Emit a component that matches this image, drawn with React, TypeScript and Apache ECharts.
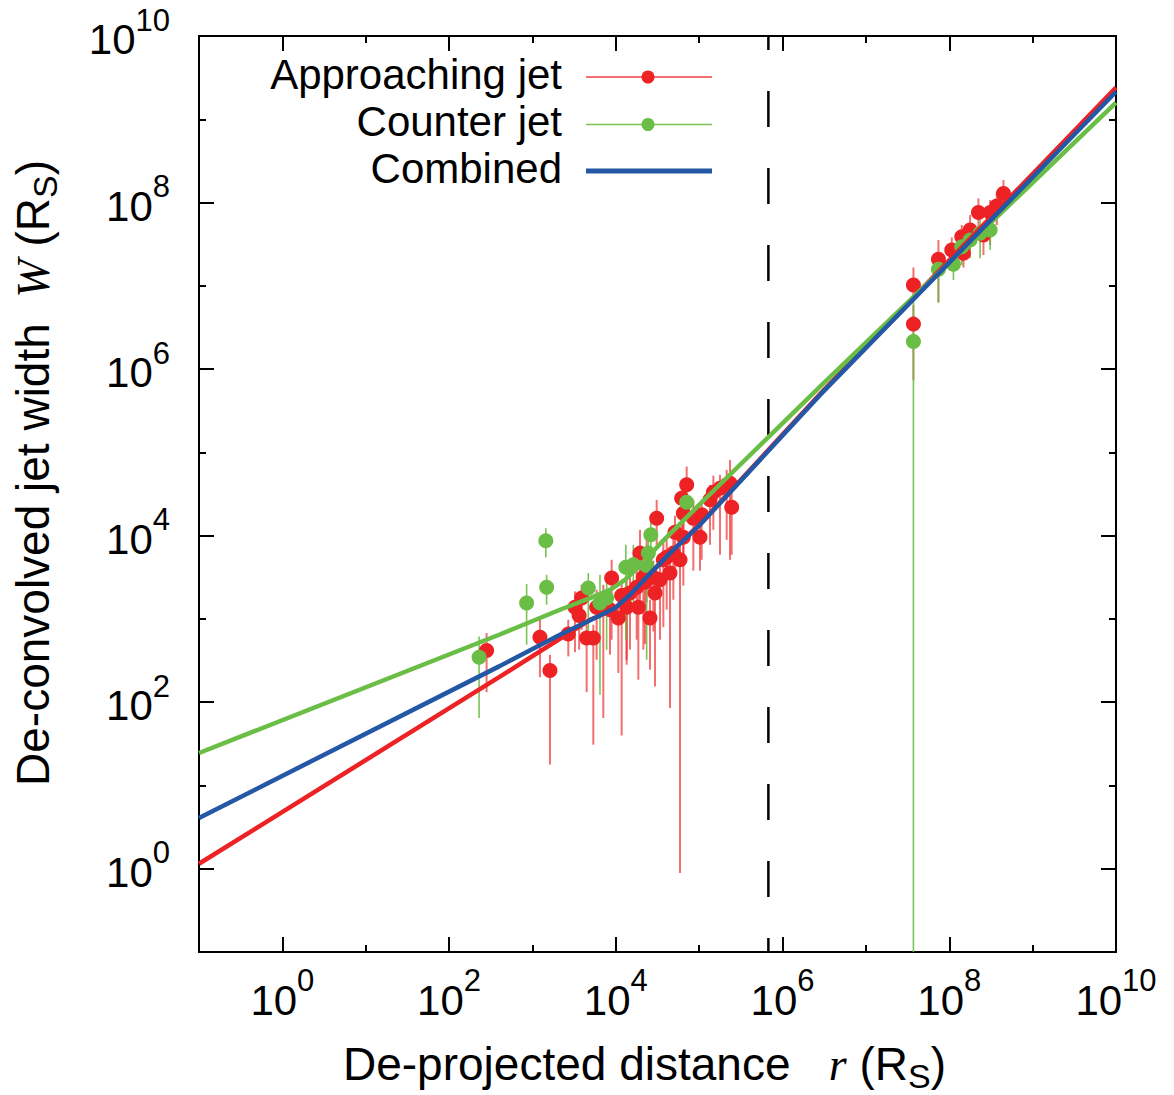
import React, { useEffect, useRef } from "react";
import * as echarts from "echarts";

// Approaching jet (red): r, W, upper and lower end of the W error bar
const approachLogR = [2.45, 3.09, 3.21, 3.43, 3.51, 3.56, 3.59, 3.65, 3.73, 3.77, 3.85, 3.93, 3.95, 4.03, 4.07, 4.13, 4.13, 4.17, 4.25, 4.27, 4.29, 4.33, 4.35, 4.37, 4.41, 4.45, 4.47, 4.49, 4.53, 4.57, 4.61, 4.65, 4.69, 4.71, 4.77, 4.79, 4.81, 4.81, 4.85, 4.93, 5.01, 5.03, 5.13, 5.17, 5.25, 5.33, 5.37, 5.39, 7.57, 7.57, 7.87, 8.03, 8.15, 8.17, 8.25, 8.35, 8.41, 8.49, 8.57, 8.65];
const approachLogW = [2.62, 2.78, 2.38, 2.82, 3.14, 3.04, 3.25, 2.77, 2.77, 3.14, 3.23, 3.11, 3.49, 3.01, 3.28, 3.14, 3.29, 3.31, 3.38, 3.14, 3.79, 3.5, 3.44, 3.77, 3.01, 3.5, 3.31, 4.21, 3.47, 3.71, 3.74, 3.55, 3.79, 4.04, 3.71, 4.45, 4.27, 3.98, 4.61, 4.21, 3.98, 4.25, 4.43, 4.52, 4.57, 4.61, 4.63, 4.34, 7.01, 6.54, 7.32, 7.43, 7.59, 7.39, 7.67, 7.88, 7.61, 7.88, 7.96, 8.11];
const approachLogWHi = [2.83, 2.99, 2.57, 2.99, 3.33, 3.23, 3.41, 2.93, 2.93, 3.35, 3.41, 3.29, 3.71, 3.17, 3.47, 3.35, 3.5, 3.53, 3.58, 3.35, 4.07, 3.71, 3.65, 3.98, 3.23, 3.7, 3.53, 4.43, 3.71, 3.92, 3.95, 3.77, 4.01, 4.24, 3.89, 4.67, 4.49, 4.19, 4.83, 4.43, 4.19, 4.43, 4.61, 4.72, 4.73, 4.79, 4.91, 4.55, 7.22, 6.77, 7.55, 7.58, 7.73, 7.55, 7.85, 8.05, 7.77, 8.03, 8.13, 8.27];
const approachLogWLo = [2.12, 2.3, 1.25, 2.55, 2.6, 2.63, 2.87, 2.12, 1.49, 2.51, 1.81, 2.57, 2.75, 2.35, 1.6, 2.51, 2.45, 2.63, 2.75, 2.27, 3.23, 2.63, 2.7, 3.2, 2.39, 2.85, 2.19, 3.89, 2.75, 2.9, 3.11, 1.93, 3.23, 3.5, -0.05, 4.07, 3.71, 3.4, 4.31, 3.58, 3.58, 3.71, 3.89, 4.07, 3.77, 3.95, 3.71, 3.77, 6.83, 5.87, 6.8, 7.29, 7.29, 7.22, 7.43, 7.69, 7.37, 7.49, 7.73, 7.91];

// Counter jet (green)
const counterLogR = [2.36, 2.93, 3.16, 3.17, 3.67, 3.81, 3.89, 4.12, 4.21, 4.37, 4.39, 4.42, 4.85, 7.57, 7.87, 8.05, 8.15, 8.25, 8.37, 8.49];
const counterLogW = [2.54, 3.19, 3.94, 3.38, 3.37, 3.19, 3.25, 3.62, 3.65, 3.64, 3.79, 4.01, 4.4, 6.33, 7.2, 7.26, 7.47, 7.55, 7.63, 7.67];
const counterLogWHi = [2.79, 3.42, 4.09, 3.53, 3.55, 3.53, 3.47, 3.89, 3.89, 3.89, 3.95, 4.19, 4.55, 6.83, 7.37, 7.43, 7.61, 7.69, 7.79, 7.82];
const counterLogWLo = [1.81, 2.69, 3.74, 3.17, 2.75, 2.09, 2.63, 2.75, 3.11, 2.51, 3.47, 3.77, 4.19, -3, 6.8, 7.07, 7.25, 7.33, 7.33, 7.43];

// Fitted broken power laws (read as vertices off the picture)
const fitApproachLogR = [-1, 2.6, 3.69, 3.81, 3.99, 4.17, 4.35, 4.65, 5.01, 6.45, 10];
const fitApproachLogW = [0.06, 2.3, 2.99, 3.04, 3.13, 3.29, 3.48, 3.79, 4.14, 5.7, 9.38];
const fitCounterLogR = [-1, 2.6, 3.33, 3.69, 3.93, 4.11, 4.29, 4.53, 5.01, 6.45, 10];
const fitCounterLogW = [1.39, 2.81, 3.11, 3.25, 3.35, 3.47, 3.64, 3.9, 4.38, 5.79, 9.2];
const fitCombinedLogR = [-1, 2.6, 3.33, 3.81, 3.99, 4.17, 4.35, 4.65, 5.01, 6.45, 10];
const fitCombinedLogW = [0.61, 2.43, 2.81, 3.04, 3.13, 3.29, 3.48, 3.79, 4.13, 5.69, 9.33];

const boundaryLogR = 5.83;
const axisMinExp = -1;
const axisMaxExp = 10;
const majorExponents = [0, 2, 4, 6, 8, 10];

const legendNames = ["Approaching jet", "Counter jet", "Combined"];

const RED = "#ED2224";
const RED_BAR = "rgba(237,34,36,0.65)";
const GREEN = "#6ABD45";
const GREEN_BAR = "rgba(106,189,69,0.9)";
const BLUE = "#2457A6";

const SANS = "'Liberation Sans', Arial, Helvetica, sans-serif";
const SERIF = "'Liberation Serif', 'Times New Roman', serif";

const pairs = (xs: number[], ys: number[]) => xs.map((x, i) => [x, ys[i]]);
const triples = (xs: number[], hi: number[], lo: number[]) => xs.map((x, i) => [x, hi[i], lo[i]]);

const tickRich = {
  b: { fontSize: 42, lineHeight: 70, fontFamily: SANS, color: "#000" },
  s: { fontSize: 31, lineHeight: 31, verticalAlign: "top", fontFamily: SANS, color: "#000" },
};
const tickFormatter = (v: number) => {
  const n = Math.round(v);
  return n % 2 === 0 ? `{b|10}{s|${n}}` : "";
};

const tickStyle = { color: "#000", width: 2 };

function makeAxes(dir: "x" | "y") {
  const base = { type: "value", min: axisMinExp, max: axisMaxExp, interval: 1, splitLine: { show: false } };
  const sides = dir === "x" ? ["bottom", "top"] : ["left", "right"];
  const axes: any[] = [];
  sides.forEach((side, si) => {
    axes.push({
      ...base,
      position: side,
      axisLine: { show: true, onZero: false, lineStyle: { color: "#000", width: 2 } },
      axisTick: { show: true, inside: true, length: 7, lineStyle: tickStyle },
      axisLabel:
        si === 0
          ? dir === "x"
            ? { show: true, formatter: tickFormatter, rich: tickRich, margin: 13 }
            : { show: true, formatter: tickFormatter, rich: tickRich, margin: 29, padding: [7, 0, 0, 0] }
          : { show: false },
    });
    axes.push({
      ...base,
      position: side,
      axisLine: { show: false, onZero: false },
      axisTick: { show: true, inside: true, length: 15, customValues: majorExponents, lineStyle: tickStyle },
      axisLabel: { show: false },
    });
  });
  return axes;
}

function errorBars(name: string, data: number[][], color: string, width: number) {
  return {
    type: "custom",
    name: name + " error",
    silent: true,
    clip: true,
    z: 1,
    encode: { x: 0, y: [1, 2] },
    data,
    renderItem: (params: any, api: any) => {
      const x = api.value(0);
      const p1 = api.coord([x, api.value(1)]);
      const p2 = api.coord([x, api.value(2)]);
      const cs = params.coordSys;
      const top = Math.max(cs.y, Math.min(p1[1], p2[1]));
      const bot = Math.min(cs.y + cs.height, Math.max(p1[1], p2[1]));
      return {
        type: "line",
        shape: { x1: p1[0], y1: top, x2: p1[0], y2: bot },
        style: { stroke: color, lineWidth: width },
      };
    },
  };
}

function titleRich() {
  return {
    n: { fontSize: 46, lineHeight: 58, fontFamily: SANS, fill: "#000", color: "#000" },
    i: { fontSize: 46, lineHeight: 58, fontFamily: SERIF, fontStyle: "italic", fill: "#000", color: "#000" },
    sub: { fontSize: 34, lineHeight: 34, verticalAlign: "bottom", fontFamily: SANS, fill: "#000", color: "#000" },
  };
}

const legendRowsY = [74, 121, 168];
const legendLineY = [77, 124.5, 171];

function buildGraphic() {
  const g: any[] = [];
  const colors = [RED, GREEN, BLUE];
  const lineColors = [RED_BAR, GREEN_BAR, BLUE];
  const lineWidths = [2, 1.5, 5];
  legendNames.forEach((name, i) => {
    g.push({
      type: "text",
      x: 562,
      y: legendRowsY[i],
      style: {
        text: name,
        font: `42px ${SANS}`,
        fill: "#000",
        align: "right",
        verticalAlign: "middle",
        textAlign: "right",
        textVerticalAlign: "middle",
      },
    });
    g.push({
      type: "line",
      shape: { x1: 586, y1: legendLineY[i], x2: 712, y2: legendLineY[i] },
      style: { stroke: lineColors[i], lineWidth: lineWidths[i] },
    });
    if (i < 2) {
      g.push({ type: "circle", shape: { cx: 648, cy: legendLineY[i], r: 6.5 }, style: { fill: colors[i] } });
    }
  });
  g.push({
    type: "text",
    x: 343,
    y: 1064,
    style: {
      text: "{n|De-projected distance}{n|   }{i|r}{n| (R}{sub|S}{n|)}",
      rich: titleRich(),
      align: "left",
      verticalAlign: "middle",
      textAlign: "left",
      textVerticalAlign: "middle",
    },
  });
  g.push({
    type: "text",
    x: 33,
    y: 473,
    rotation: Math.PI / 2,
    style: {
      text: "{n|De-convolved jet width  }{i|W}{n| (R}{sub|S}{n|)}",
      rich: titleRich(),
      align: "center",
      verticalAlign: "middle",
      textAlign: "center",
      textVerticalAlign: "middle",
    },
  });
  return g;
}

export default function App() {
  const ref = useRef<HTMLDivElement>(null);
  useEffect(() => {
    if (!ref.current) return;
    const chart = echarts.init(ref.current, null, { renderer: "svg" });
    const option: any = {
      animation: false,
      backgroundColor: "#fff",
      grid: { left: 199, top: 36, width: 917, height: 916, containLabel: false, outerBoundsMode: "none" },
      xAxis: makeAxes("x"),
      yAxis: makeAxes("y"),
      graphic: buildGraphic(),
      series: [
        {
          type: "line",
          name: "boundary",
          silent: true,
          showSymbol: false,
          symbol: "none",
          z: 1,
          data: [
            [boundaryLogR, axisMaxExp],
            [boundaryLogR, axisMinExp],
          ],
          lineStyle: { color: "#000", width: 2.5, type: [36, 41], dashOffset: 22 },
        },
        errorBars("Approaching jet", triples(approachLogR, approachLogWHi, approachLogWLo), RED_BAR, 2),
        errorBars("Counter jet", triples(counterLogR, counterLogWHi, counterLogWLo), GREEN_BAR, 1.6),
        {
          type: "scatter",
          name: "Approaching jet",
          symbol: "circle",
          symbolSize: 15,
          z: 2,
          itemStyle: { color: RED, opacity: 1 },
          data: pairs(approachLogR, approachLogW),
        },
        {
          type: "scatter",
          name: "Counter jet",
          symbol: "circle",
          symbolSize: 15,
          z: 3,
          itemStyle: { color: GREEN, opacity: 1 },
          data: pairs(counterLogR, counterLogW),
        },
        {
          type: "line",
          name: "Approaching fit",
          showSymbol: false,
          symbol: "none",
          z: 4,
          lineStyle: { color: RED, width: 4.5 },
          data: pairs(fitApproachLogR, fitApproachLogW),
        },
        {
          type: "line",
          name: "Counter fit",
          showSymbol: false,
          symbol: "none",
          z: 5,
          lineStyle: { color: GREEN, width: 4.5 },
          data: pairs(fitCounterLogR, fitCounterLogW),
        },
        {
          type: "line",
          name: "Combined",
          showSymbol: false,
          symbol: "none",
          z: 6,
          lineStyle: { color: BLUE, width: 4.5 },
          data: pairs(fitCombinedLogR, fitCombinedLogW),
        },
      ],
    };
    chart.setOption(option);
    return () => chart.dispose();
  }, []);
  return (
    <div
      ref={ref}
      style={{ position: "absolute", left: 0, top: 0, width: 1174, height: 1095, background: "#fff" }}
    />
  );
}
